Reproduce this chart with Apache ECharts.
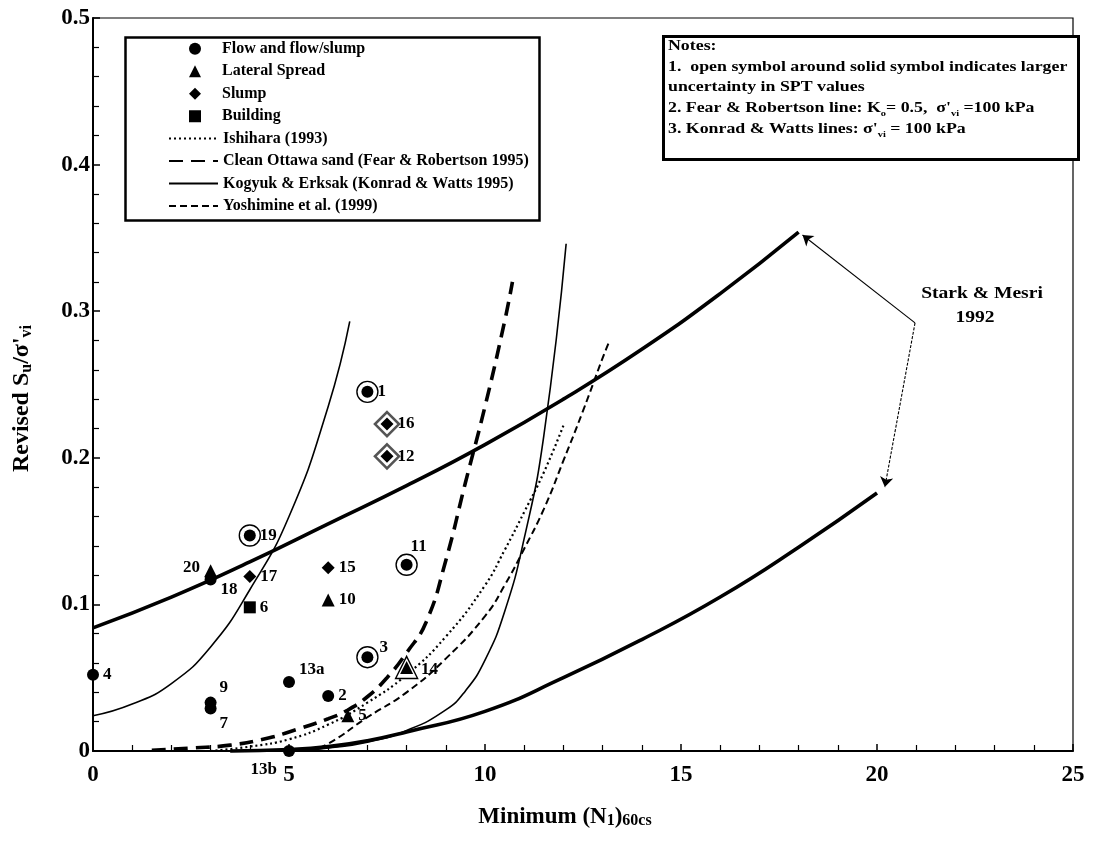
<!DOCTYPE html>
<html>
<head>
<meta charset="utf-8">
<script src="https://cdn.jsdelivr.net/npm/echarts@6/dist/echarts.min.js"></script>
<style>
  html, body { margin: 0; padding: 0; background: #fff; }
  #chart { width: 1104px; height: 844px; }
</style>
</head>
<body>
<div id="chart"></div>
<script>
// Case histories: [case id, minimum (N1)60cs, revised Su/σ'vi]
const flowCases = [
  ['1', 7, 0.245], ['2', 6, 0.0375], ['3', 7, 0.064], ['4', 0, 0.052],
  ['9', 3, 0.033], ['7', 3, 0.029], ['11', 8, 0.127], ['13a', 5, 0.047],
  ['13b', 5, 0.0], ['18', 3, 0.117], ['19', 4, 0.147]
];
const lateralSpreadCases = [['20', 3, 0.123], ['10', 6, 0.103], ['14', 8, 0.057], ['5', 6.5, 0.024]];
const slumpCases = [['16', 7.5, 0.223], ['12', 7.5, 0.201], ['15', 6, 0.125], ['17', 4, 0.119]];
const buildingCases = [['6', 4, 0.098]];
// cases with larger uncertainty in SPT values (open symbol drawn around the solid one)
const uncertainSpt = ['1', '3', '11', '19', '16', '12', '14'];

// Published relationships: [minimum (N1)60cs, Su/σ'vi]
const ishihara1993 = [[3, 0], [4, 0.003], [5, 0.008], [6, 0.018], [7, 0.033], [8, 0.052], [9, 0.078],
  [10, 0.113], [10.5, 0.137], [11, 0.163], [11.5, 0.19], [12, 0.222]];
const fearRobertson1995 = [[1.5, 0.0005], [2.5, 0.002], [3.5, 0.004], [4.5, 0.009], [5, 0.013], [6, 0.022],
  [6.5, 0.028], [7, 0.037], [7.5, 0.05], [8, 0.067], [8.5, 0.088], [9, 0.13], [9.5, 0.183],
  [10, 0.235], [10.5, 0.293], [10.7, 0.32]];
const kogyukLeft = [[0, 0.024], [1, 0.032], [2, 0.046], [3, 0.071], [4, 0.11], [5, 0.16],
  [6, 0.235], [6.55, 0.293]];
const kogyukRight = [[5.3, 0], [6, 0.002], [7, 0.006], [8, 0.014], [9, 0.028], [9.5, 0.041],
  [10, 0.062], [10.5, 0.095], [11, 0.145], [11.5, 0.215], [12.07, 0.346]];
const yoshimine1999 = [[5.5, 0], [6, 0.005], [7, 0.023], [8, 0.04], [9, 0.063], [10, 0.092],
  [10.5, 0.113], [11, 0.138], [11.5, 0.165], [12, 0.198], [12.5, 0.232], [13, 0.268], [13.15, 0.278]];
const starkMesriUpper = [[0, 0.084], [2, 0.105], [4, 0.129], [6, 0.155], [8, 0.181], [10, 0.209],
  [12, 0.240], [14, 0.274], [16, 0.312], [18, 0.354]];
const starkMesriLower = [[3.5, 0], [5, 0.001], [6, 0.003], [7, 0.007], [8, 0.013], [10, 0.027],
  [12, 0.050], [14, 0.076], [16, 0.105], [18, 0.139], [20, 0.176]];
// callout from the "Stark & Mesri 1992" note to the ends of both lines
const starkMesriCallout = [[[20.97, 0.292], [18.1, 0.352]], [[20.97, 0.292], [20.2, 0.18]]];

const xTicks = [0, 25, 5];
const yTicks = [0, 0.5, 0.1];

const SERIF = "'Liberation Serif', 'DejaVu Serif', serif";

// label placement around each case symbol
const labelPlacement = {
  '11': { position: 'top', offset: [12, 0] },
  '20': { position: 'left', offset: [0, -3] },
  '18': { position: 'right', offset: [0, 10] },
  '3': { position: 'right', offset: [2, -10] },
  '13a': { position: 'right', offset: [0, -12] },
  '9': { position: 'right', offset: [-1, -15] },
  '7': { position: 'right', offset: [-1, 15] },
  '13b': { position: 'left', offset: [-2, 19] },
  '14': { position: 'right', offset: [4, 2] }
};

function caseData(cases) {
  return cases.map(([id, n, su]) => {
    const p = labelPlacement[id] || { position: 'right', offset: [0, 0] };
    return {
      name: id,
      value: [n, su],
      label: {
        show: true,
        formatter: id,
        position: p.position,
        offset: p.offset,
        distance: 4,
        color: '#000',
        fontFamily: SERIF,
        fontWeight: 'bold',
        fontSize: 17
      }
    };
  });
}

function ringData(cases) {
  return cases.filter(c => uncertainSpt.includes(c[0])).map(c => [c[1], c[2]]);
}

function curve(name, data, width, type) {
  return {
    name, type: 'line', data, symbol: 'none', smooth: true,
    clip: false, z: 3,
    itemStyle: { color: '#000', opacity: 0 },
    lineStyle: { color: '#000', width, type, cap: 'butt', opacity: 1 }
  };
}

function ring(data, symbol, size, border, color) {
  return {
    name: 'ring', type: 'scatter', data, symbol, symbolSize: size, z: 4,
    itemStyle: { color: '#fff', borderColor: color, borderWidth: border, opacity: 1 },
    emphasis: { disabled: true }
  };
}

function solid(name, cases, symbol, size) {
  return {
    name, type: 'scatter', data: caseData(cases), symbol, symbolSize: size, z: 5,
    itemStyle: { color: '#000', opacity: 1 },
    emphasis: { disabled: true }
  };
}

const sub = { fontFamily: SERIF, fontWeight: 'bold', color: '#000' };
const legendText = { color: '#000', fontFamily: SERIF, fontWeight: 'bold', fontSize: 16, lineHeight: 17.5 };

const option = {
  animation: false,
  backgroundColor: '#fff',
  grid: { left: 93, right: 31, top: 18, bottom: 93, show: true, borderColor: '#000', borderWidth: 1.2, containLabel: false },
  xAxis: {
    type: 'value', min: xTicks[0], max: xTicks[1], interval: xTicks[2],
    axisLine: { show: true, onZero: false, lineStyle: { color: '#000', width: 2 } },
    axisTick: { show: true, inside: true, length: 7, lineStyle: { color: '#000', width: 1.5 } },
    minorTick: { show: true, splitNumber: 5, length: 6, lineStyle: { color: '#000', width: 1.2 } },
    splitLine: { show: false },
    axisLabel: { color: '#000', fontFamily: SERIF, fontWeight: 'bold', fontSize: 23, margin: 13 },
    name: 'Minimum (N{s|1}){s|60cs}',
    nameLocation: 'middle', nameGap: 55,
    nameTextStyle: {
      color: '#000', fontFamily: SERIF, fontWeight: 'bold', fontSize: 23, padding: [0, 36, 0, 0],
      rich: { s: Object.assign({ fontSize: 16, verticalAlign: 'bottom', lineHeight: 16, padding: [10, 0, 0, 0] }, sub) }
    }
  },
  yAxis: {
    type: 'value', min: yTicks[0], max: yTicks[1], interval: yTicks[2],
    axisLine: { show: true, onZero: false, lineStyle: { color: '#000', width: 2 } },
    axisTick: { show: true, inside: true, length: 7, lineStyle: { color: '#000', width: 1.5 } },
    minorTick: { show: true, splitNumber: 5, length: 6, lineStyle: { color: '#000', width: 1.2 } },
    splitLine: { show: false },
    axisLabel: { color: '#000', fontFamily: SERIF, fontWeight: 'bold', fontSize: 23, margin: 3 },
    name: "Revised S{s|u}/σ'{s|vi}",
    nameLocation: 'middle', nameGap: 58, nameRotate: 90,
    nameTextStyle: {
      color: '#000', fontFamily: SERIF, fontWeight: 'bold', fontSize: 24, padding: [0, 28, 0, 0],
      rich: { s: Object.assign({ fontSize: 16, verticalAlign: 'bottom', padding: [10, 0, 0, 0] }, sub) }
    }
  },
  legend: [
    {
      orient: 'vertical', left: 184, top: 35,
      itemWidth: 12, itemHeight: 12, itemGap: 5,
      selectedMode: false,
      data: [
        { name: 'Flow and flow/slump', icon: 'circle' },
        { name: 'Lateral Spread', icon: 'triangle' },
        { name: 'Slump', icon: 'diamond' },
        { name: 'Building', icon: 'rect' }
      ],
      textStyle: Object.assign({ padding: [0, 0, 0, 16] }, legendText)
    },
    {
      orient: 'vertical', left: 163, top: 124.8,
      itemWidth: 49, itemHeight: 12, itemGap: 5,
      selectedMode: false,
      data: ['Ishihara (1993)', 'Clean Ottawa sand (Fear & Robertson 1995)',
        'Kogyuk & Erksak (Konrad & Watts 1995)', 'Yoshimine et al. (1999)'],
      textStyle: legendText
    }
  ],
  graphic: [
    { type: 'rect', left: 123, top: 35, shape: { width: 414, height: 183 }, style: { fill: 'none', stroke: '#000', lineWidth: 2.5 }, z: 10 },
    { type: 'rect', left: 662, top: 35, shape: { width: 415, height: 123 }, style: { fill: '#fff', stroke: '#000', lineWidth: 3 }, z: 10 },
    {
      type: 'text', x: 668, y: 35.5, scaleX: 1.15, z: 11,
      style: {
        text: [
          '{b|Notes:}',
          '{b|1.  open symbol around solid symbol indicates larger}',
          '{b|uncertainty in SPT values}',
          "{b|2. Fear & Robertson line: K}{s|o}{b|= 0.5,  σ'}{s|vi}{b| =100 kPa}",
          "{b|3. Konrad & Watts lines: σ'}{s|vi}{b| = 100 kPa}"
        ].join('\n'),
        rich: {
          b: { fontFamily: SERIF, fontWeight: 'bold', fontSize: 15.5, lineHeight: 20.7, fill: '#000' },
          s: { fontFamily: SERIF, fontWeight: 'bold', fontSize: 9, lineHeight: 13, verticalAlign: 'bottom', fill: '#000' }
        }
      }
    },
    {
      type: 'text', x: 982, y: 294, scaleX: 1.15, z: 11,
      style: {
        text: 'Stark & Mesri', align: 'center', verticalAlign: 'middle',
        fontFamily: SERIF, fontWeight: 'bold', fontSize: 17, fill: '#000'
      }
    },
    {
      type: 'text', x: 975, y: 318, scaleX: 1.15, z: 11,
      style: {
        text: '1992', align: 'center', verticalAlign: 'middle',
        fontFamily: SERIF, fontWeight: 'bold', fontSize: 17, fill: '#000'
      }
    }
  ],
  series: [
    curve('Ishihara (1993)', ishihara1993, 2.2, [2, 3]),
    curve('Clean Ottawa sand (Fear & Robertson 1995)', fearRobertson1995, 3.6, [14, 8]),
    curve('Kogyuk & Erksak (Konrad & Watts 1995)', kogyukLeft, 1.6, 'solid'),
    curve('Kogyuk & Erksak (Konrad & Watts 1995)', kogyukRight, 1.6, 'solid'),
    curve('Yoshimine et al. (1999)', yoshimine1999, 2, [7, 4]),
    curve('Stark & Mesri 1992', starkMesriUpper, 3.6, 'solid'),
    curve('Stark & Mesri 1992', starkMesriLower, 3.6, 'solid'),
    {
      name: 'callout', type: 'lines', coordinateSystem: 'cartesian2d', z: 3,
      symbol: ['none', 'arrow'], symbolSize: 10,
      data: starkMesriCallout.map((coords, i) => ({
        coords, lineStyle: { color: '#000', width: 1.1, type: i === 0 ? 'solid' : [3, 1.5] }
      })),
      lineStyle: { color: '#000', width: 1.1, opacity: 1 }
    },
    ring(ringData(flowCases), 'circle', 21, 1.4, '#000'),
    ring(ringData(slumpCases), 'diamond', 24, 2.6, '#555'),
    ring(ringData(lateralSpreadCases), 'triangle', 22, 1.4, '#000'),
    solid('Flow and flow/slump', flowCases, 'circle', 12),
    solid('Lateral Spread', lateralSpreadCases, 'triangle', 13),
    solid('Slump', slumpCases, 'diamond', 13),
    solid('Building', buildingCases, 'rect', 12)
  ]
};

const chart = echarts.init(document.getElementById('chart'), null, { renderer: 'canvas' });
chart.setOption(option);
</script>
</body>
</html>
